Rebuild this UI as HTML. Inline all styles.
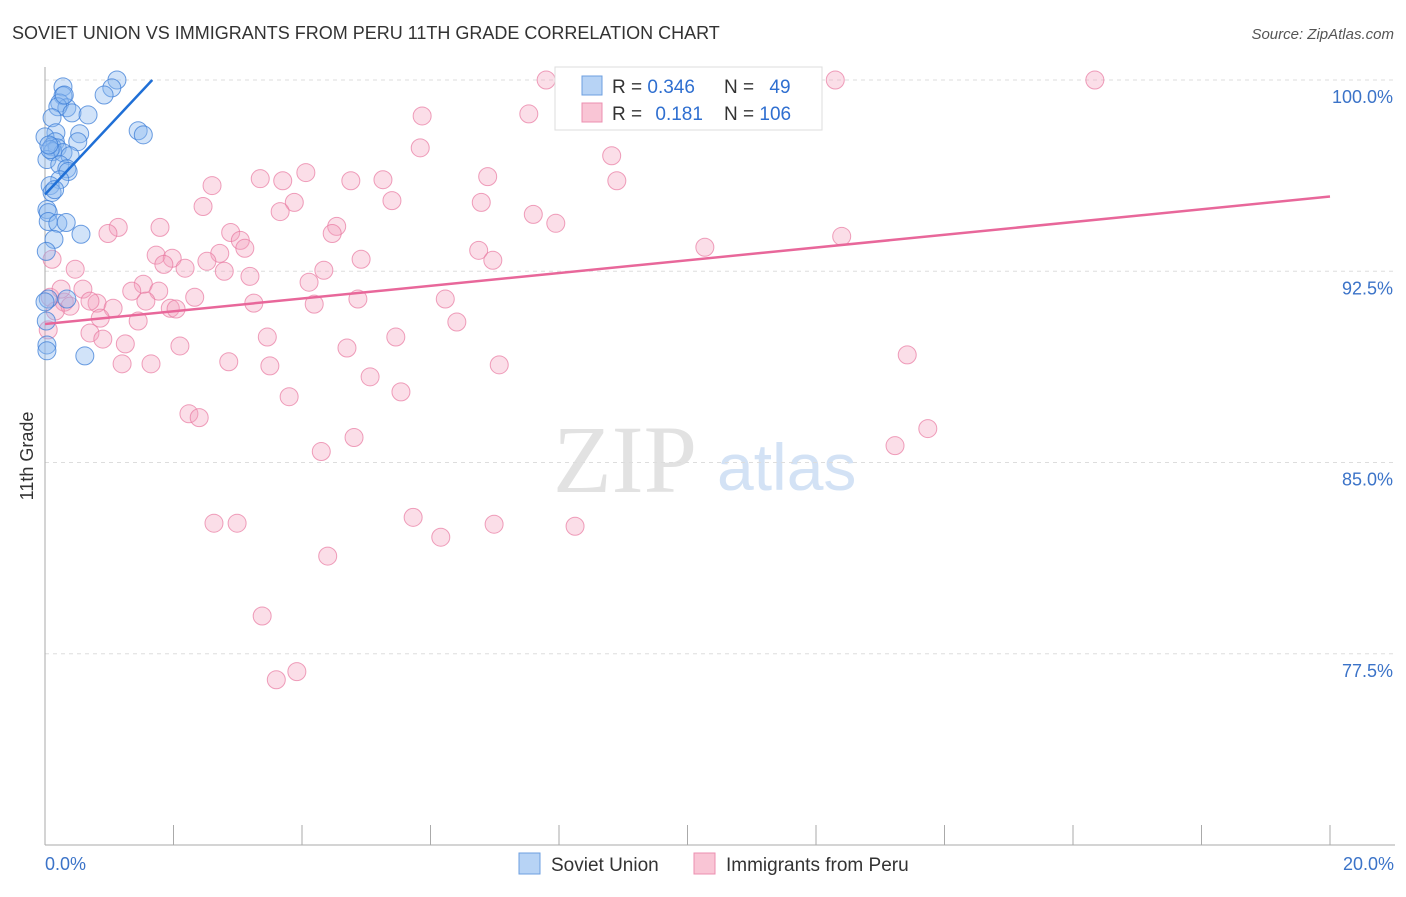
<!DOCTYPE html>
<html><head><meta charset="utf-8"><style>
body{margin:0;background:#fff;font-family:"Liberation Sans",sans-serif;}
svg text{font-family:"Liberation Sans",sans-serif;}
</style></head><body>
<svg id="chart" width="1406" height="892" xmlns="http://www.w3.org/2000/svg">
<text x="12" y="39" font-size="18" fill="#333">SOVIET UNION VS IMMIGRANTS FROM PERU 11TH GRADE CORRELATION CHART</text>
<text x="1394" y="39" font-size="15" fill="#555" font-style="italic" text-anchor="end">Source: ZipAtlas.com</text>
<text x="33" y="456" font-size="18" fill="#333" transform="rotate(-90 33 456)" text-anchor="middle">11th Grade</text>
<g>
<text x="553" y="492" font-size="96" fill="#e2e2e2" font-family="Liberation Serif" style="font-family:'Liberation Serif',serif">ZIP</text>
<text x="717" y="490" font-size="66" fill="#d3e2f5">atlas</text>
</g>
<g id="grid"></g>
<g id="axes"></g>
<g id="pts"></g>
<g id="lines"></g>
<g>
<rect x="555" y="67" width="267" height="63" fill="#fff" stroke="#ddd"/>
<rect x="582" y="76" width="20" height="19" fill="#b7d3f5" stroke="#6c9fe0"/>
<rect x="582" y="103" width="20" height="19" fill="#f9c5d5" stroke="#ec8fb0"/>
<text x="612" y="93" font-size="19" fill="#333">R = <tspan fill="#2f6fd0">0.346</tspan></text>
<text x="724" y="93" font-size="19" fill="#333">N = <tspan dx="10" fill="#2f6fd0">49</tspan></text>
<text x="612" y="120" font-size="19" fill="#333">R = <tspan dx="8" fill="#2f6fd0">0.181</tspan></text>
<text x="724" y="120" font-size="19" fill="#333">N = <tspan fill="#2f6fd0">106</tspan></text>
</g>
<g>
<rect x="519" y="853" width="21" height="21" fill="#b7d3f5" stroke="#6c9fe0"/>
<text x="551" y="871" font-size="19" fill="#333">Soviet Union</text>
<rect x="694" y="853" width="21" height="21" fill="#f9c5d5" stroke="#ec8fb0"/>
<text x="726" y="871" font-size="19" fill="#333">Immigrants from Peru</text>
</g>
</svg>
<script>
const yTicks=[100,92.5,85,77.5];
const yTickLabels=["100.0%","92.5%","85.0%","77.5%"];
const xTickLabels=["0.0%","20.0%"];
const blueX=[0.28,1.12,1.04,0.92,0.28,0.23,0.34,0.20,0.42,0.67,0.11,1.45,1.53,0.17,0.54,0.0,0.16,0.51,0.11,0.19,0.12,0.28,0.39,0.03,0.23,0.34,0.36,0.23,0.08,0.11,0.03,0.05,0.05,0.20,0.33,0.56,0.14,0.02,0.05,0.34,0.02,0.03,0.03,0.62,0.08,0.30,0.0,0.06,0.15];
const blueY=[99.73,100.0,99.69,99.41,99.38,99.10,98.91,98.95,98.71,98.63,98.52,98.01,97.85,97.93,97.89,97.77,97.58,97.58,97.38,97.34,97.19,97.15,97.03,96.88,96.68,96.52,96.41,96.09,95.86,95.59,94.92,94.80,94.45,94.38,94.41,93.95,93.75,93.28,91.41,91.41,90.55,89.61,89.38,89.18,97.27,99.41,91.30,97.45,95.70];
const pinkX=[7.80,9.53,12.30,16.34,7.53,5.87,8.14,10.91,5.84,8.82,8.90,4.06,6.89,2.60,3.35,3.70,4.76,5.26,5.40,6.79,2.46,3.88,3.66,7.60,7.95,1.14,1.79,0.98,2.89,4.54,4.47,3.04,3.11,10.27,12.40,6.75,6.97,1.73,1.98,2.72,1.85,2.18,2.52,4.92,2.79,3.19,4.34,1.53,1.35,1.77,4.11,0.59,0.81,2.33,3.25,6.23,4.87,4.19,0.30,0.70,1.06,1.57,1.95,2.04,6.41,0.86,1.45,0.70,0.90,1.25,2.10,3.46,5.46,4.70,13.42,1.20,1.65,2.86,3.50,7.07,5.06,3.80,5.54,2.24,2.40,13.74,13.23,4.81,4.30,2.63,2.99,5.73,6.99,8.25,6.16,4.40,3.38,3.92,3.60,0.11,0.08,0.47,0.39,0.16,0.05,0.25];
const pinkY=[100.0,100.0,100.0,100.0,98.67,98.59,98.67,98.67,97.34,97.03,96.05,96.37,96.21,95.86,96.13,96.05,96.05,96.09,95.27,95.20,95.04,95.20,94.84,94.73,94.38,94.22,94.22,93.98,94.02,94.26,93.98,93.71,93.40,93.44,93.87,93.32,92.93,93.13,93.01,93.20,92.77,92.62,92.89,92.97,92.50,92.30,92.54,91.99,91.72,91.72,92.07,91.80,91.25,91.48,91.25,91.41,91.41,91.21,91.29,91.33,91.05,91.33,91.05,91.02,90.51,90.66,90.55,90.08,89.84,89.65,89.57,89.92,89.92,89.49,89.22,88.87,88.87,88.95,88.79,88.83,88.36,87.58,87.77,86.91,86.76,86.33,85.66,85.98,85.43,82.62,82.62,82.85,82.58,82.50,82.07,81.33,78.98,76.80,76.48,92.97,91.48,92.58,91.13,90.94,90.20,91.80];
const blueTrend=[95.51,2.69];
const pinkTrend=[90.43,0.25];
const NS="http://www.w3.org/2000/svg";
const X0=45,X1=1330,YT=80,YB=845;
function sx(v){return X0+(v/20)*(X1-X0);}
function sy(v){return YT+(100-v)/30*(YB-YT);}
function mk(tag,attrs,parent){const e=document.createElementNS(NS,tag);for(const k in attrs)e.setAttribute(k,attrs[k]);parent.appendChild(e);return e;}
const grid=document.getElementById('grid'),axes=document.getElementById('axes'),pts=document.getElementById('pts'),lines=document.getElementById('lines');
yTicks.forEach((t,i)=>{
 const l=mk('line',{x1:X0,x2:1395,y1:sy(t),y2:sy(t),stroke:'#ddd','stroke-dasharray':'4 4'},grid);
 
 
 const tx=mk('text',{x:1393,y:sy(t)+23,'font-size':18,fill:'#3b73c8','text-anchor':'end'},axes);
 tx.textContent=yTickLabels[i];
 
 
});
const ax=mk('line',{x1:X0,x2:X0,y1:67,y2:YB,stroke:'#aaa'},axes);


const bx=mk('line',{x1:X0,x2:1395,y1:YB,y2:YB,stroke:'#aaa'},axes);


for(let i=0;i<=10;i++){const t=mk('line',{x1:sx(i*2),x2:sx(i*2),y1:825,y2:YB,stroke:'#aaa'},axes);
 
 }
const xl0=mk('text',{x:45,y:870,'font-size':18,fill:'#3b73c8'},axes);xl0.textContent=xTickLabels[0];


const xl1=mk('text',{x:1394,y:870,'font-size':18,fill:'#3b73c8','text-anchor':'end'},axes);xl1.textContent=xTickLabels[1];


pinkX.forEach((x,i)=>{const c=mk('circle',{cx:sx(x),cy:sy(pinkY[i]),r:9,fill:'rgba(244,160,190,0.35)',stroke:'rgba(232,120,160,0.7)','stroke-width':1},pts);
 
 });
blueX.forEach((x,i)=>{const c=mk('circle',{cx:sx(x),cy:sy(blueY[i]),r:9,fill:'rgba(140,185,240,0.4)',stroke:'rgba(60,125,215,0.75)','stroke-width':1},pts);
 
 });
const bxEnd=(100-blueTrend[0])/blueTrend[1];
const bl=mk('line',{x1:sx(0),y1:sy(blueTrend[0]),x2:sx(bxEnd),y2:sy(100),stroke:'#1f6fd6','stroke-width':2.5},lines);


const pl=mk('line',{x1:sx(0),y1:sy(pinkTrend[0]),x2:sx(20),y2:sy(pinkTrend[0]+pinkTrend[1]*20),stroke:'#e8679a','stroke-width':2.5},lines);


</script>
</body></html>
